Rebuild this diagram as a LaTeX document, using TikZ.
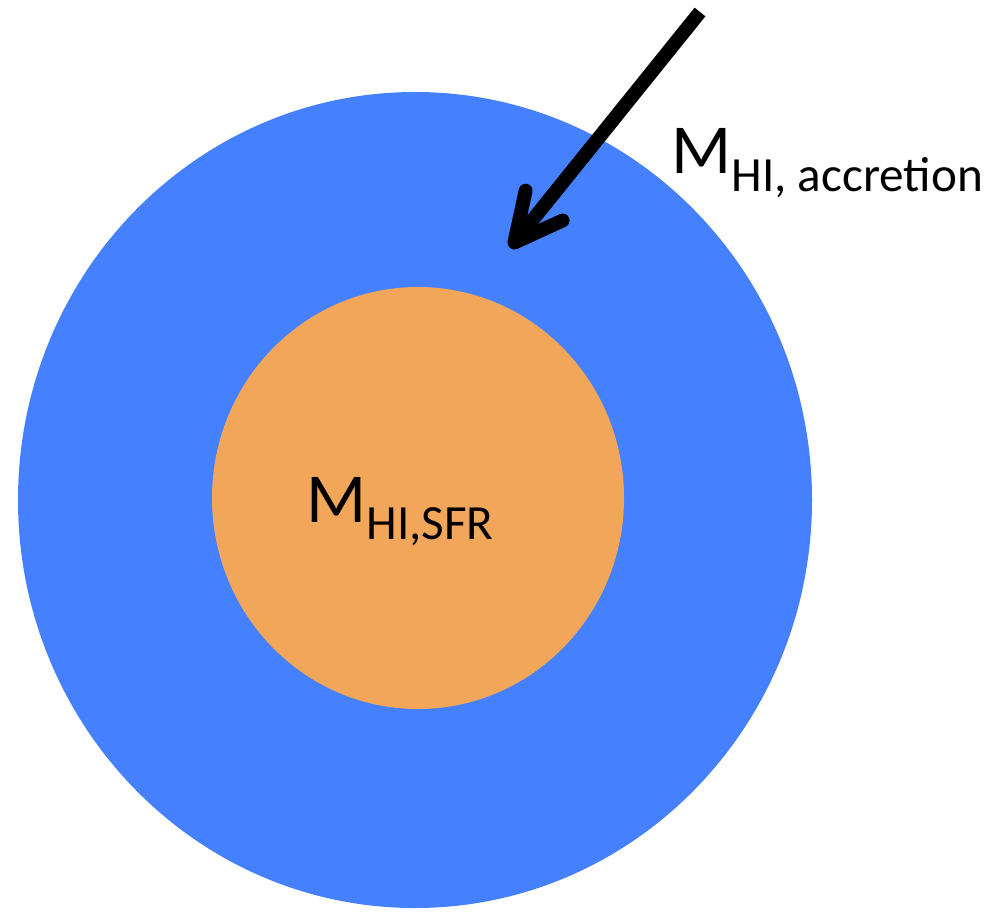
\documentclass[tikz,border=0pt]{standalone}
\usepackage{fontspec}
\setmainfont{Carlito}
\usetikzlibrary{arrows.meta}

\definecolor{outerblue}{RGB}{69,129,255}
\definecolor{innerorange}{RGB}{242,166,89}

\tikzset{
  masslabel/.style={anchor=base west, inner sep=0pt, font=\fontsize{40}{40}\selectfont},
  inflow/.style={line width=7.9pt, -{Straight Barb[length=0.95cm, width=0.95cm, round]}}
}
\newcommand{\massub}[1]{\raisebox{-10pt}{\fontsize{28}{28}\selectfont #1}}

\begin{document}
\begin{tikzpicture}[x=0.02cm, y=-0.02cm]
  \useasboundingbox (0,0) rectangle (999,915);

  % Outer HI reservoir and inner star forming disc
  \fill[outerblue] (415,500) ellipse (397 and 408);
  \fill[innerorange] (418,498) ellipse (206 and 211);

  % Labels
  \node[masslabel] (sfr) at (306,522) {M\massub{HI,SFR}};
  \node[masslabel] (acc) at (671,174) {M\massub{HI, accretion}};

  % Accretion arrow
  \coordinate (tail) at (700,12);
  \coordinate (tip) at (510,248);
  \draw[inflow] (tail) -- (tip);

\end{tikzpicture}
\end{document}
